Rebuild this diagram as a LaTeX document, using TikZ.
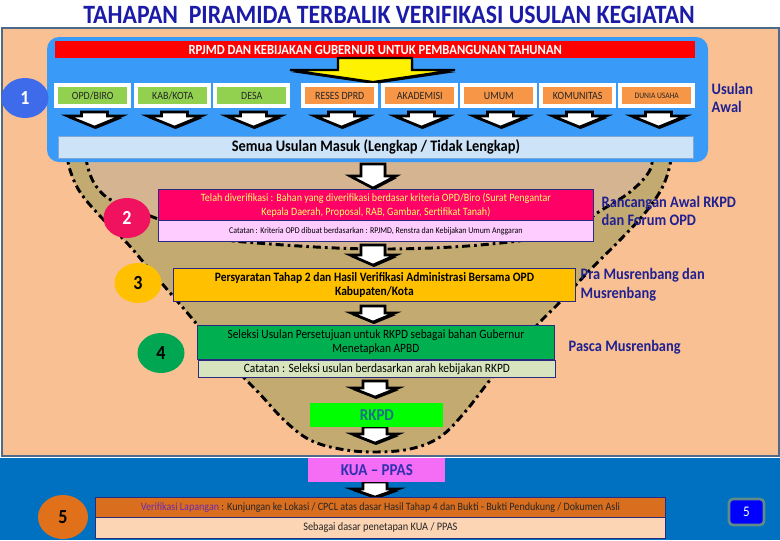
\documentclass[tikz,border=0pt]{standalone}
\usepackage{fontspec}
\setmainfont[FakeStretch=0.9]{Carlito}
\usetikzlibrary{shapes.geometric}
\newlength\px \setlength\px{0.75pt}
\definecolor{titleblue}{HTML}{1B1BA8}
\definecolor{peach}{HTML}{F9C193}
\definecolor{slate}{HTML}{4D6A8A}
\definecolor{lowblue}{HTML}{0070C0}
\definecolor{skyblue}{HTML}{3A9AF7}
\definecolor{lgreen}{HTML}{92D050}
\definecolor{lorange}{HTML}{F79646}
\definecolor{semua}{HTML}{CDE3F8}
\definecolor{semuab}{HTML}{7FA8D8}
\definecolor{khaki}{HTML}{C3AA71}
\definecolor{lighttan}{HTML}{D5B491}
\definecolor{magenta2}{HTML}{FF0066}
\definecolor{lpink}{HTML}{FFCCFF}
\definecolor{amber}{HTML}{FFC000}
\definecolor{dgreen}{HTML}{00B050}
\definecolor{notegreen}{HTML}{D7E4BD}
\definecolor{boxline}{HTML}{2A2A80}
\definecolor{navylbl}{HTML}{202090}
\definecolor{rkpdtxt}{HTML}{1D6E8A}
\definecolor{kuafill}{HTML}{F56CF5}
\definecolor{kuatxt}{HTML}{3030B0}
\definecolor{orange5}{HTML}{D96E1E}
\definecolor{peach5}{HTML}{FCD5B5}
\definecolor{vpurple}{HTML}{6A2AB0}
\definecolor{yellowtxt}{HTML}{FFFF66}
\definecolor{c1}{HTML}{3D6BEA}
\definecolor{c2}{HTML}{F0115F}
\definecolor{c4}{HTML}{00A651}
\definecolor{c5}{HTML}{E0701A}
\definecolor{pgborder}{HTML}{5E8C8A}
\newcommand\dnarrow[6]{%
  \fill[black, xshift=0.8pt, yshift=-1.5pt] (#1-#5,#2) -- (#1+#5,#2) -- (#1+#5,#3) -- (#1+#6,#3) -- (#1,#4) -- (#1-#6,#3) -- (#1-#5,#3) -- cycle;
  \draw[arrowsty] (#1-#5,#2) -- (#1+#5,#2) -- (#1+#5,#3) -- (#1+#6,#3) -- (#1,#4) -- (#1-#6,#3) -- (#1-#5,#3) -- cycle;}
\begin{document}
\begin{tikzpicture}[x=0.75pt,y=-0.75pt,
  arrowsty/.style={fill=white, draw=black, line width=1.9pt, line join=miter},
  frame/.style={fill=white, minimum width=77\px, minimum height=25\px, inner sep=0pt, anchor=north west},
  lbl/.style={minimum width=69\px, minimum height=17\px, inner sep=0pt, text=black!85, font=\fontsize{8.3}{9}\selectfont},
  bx/.style={draw=boxline, line width=0.6pt, inner sep=0pt, anchor=north west, align=center},
  num/.style={ellipse, minimum width=47\px, minimum height=40\px, inner sep=0pt, font=\bfseries\fontsize{15}{15}\selectfont},
  side/.style={anchor=west, align=left, text=navylbl, font=\bfseries\fontsize{12}{14}\selectfont},
  funnel/.style={draw=black, line width=2.2pt, dash pattern=on 6pt off 3pt on 2pt off 3pt}
]
\useasboundingbox (0,0) rectangle (780,540);
\fill[white] (0,0) rectangle (780,540);
% title
\node[text=titleblue, font=\bfseries\fontsize{19.8}{20}\selectfont] (title) at (389,15) {TAHAPAN\ \ PIRAMIDA TERBALIK VERIFIKASI USULAN KEGIATAN};
% panels
\draw[fill=peach, draw=slate, line width=1.5pt] (2,28) rectangle (779,456);
\fill[lowblue] (0,458) rectangle (780,540);
% funnel
\draw[funnel, fill=khaki] plot[smooth, tension=0.6] coordinates {(66,150) (70,170) (80,192) (100,216) (127,243) (145,264) (165,287) (190,316) (225,358) (258,392) (285,421) (310,440) (340,449) (373,452) (410,449) (440,437) (465,412) (490,380) (515,350) (540,322) (560,302) (590,270) (620,240) (645,213) (662,188) (670,165) (671,150)} -- cycle;
\draw[funnel, fill=lighttan] plot[smooth, tension=0.6] coordinates {(652,150) (650,170) (630,192) (597,213) (570,232) (480,245) (375,249) (270,244) (200,236) (158,219) (113,201) (96,186) (88,168) (85,150)} -- cycle;
% top blue panel
\fill[skyblue, rounded corners=12\px] (47,37) rectangle (708,162);
\node[fill=red, minimum width=640\px, minimum height=17\px, inner sep=0pt, anchor=north west, text=white, font=\bfseries\fontsize{10.5}{11}\selectfont] (rpjmd) at (55,41) {RPJMD DAN KEBIJAKAN GUBERNUR UNTUK PEMBANGUNAN TAHUNAN};
\fill[black, xshift=0.8pt, yshift=-1.5pt] (338,58) -- (412,58) -- (412,70) -- (455,70) -- (373,82) -- (290,70) -- (338,70) -- cycle;
\draw[fill=yellow, draw=black, line width=1.6pt, line join=miter] (338,58) -- (412,58) -- (412,70) -- (455,70) -- (373,82) -- (290,70) -- (338,70) -- cycle;
% source boxes
\node[frame] (f1) at (54,83) {};  \node[lbl, fill=lgreen] (l1) at (f1.center) {OPD/BIRO};
\node[frame] (f2) at (134,83) {}; \node[lbl, fill=lgreen] (l2) at (f2.center) {KAB/KOTA};
\node[frame] (f3) at (213,83) {}; \node[lbl, fill=lgreen] (l3) at (f3.center) {DESA};
\node[frame] (f4) at (301,83) {}; \node[lbl, fill=lorange] (l4) at (f4.center) {RESES DPRD};
\node[frame] (f5) at (381,83) {}; \node[lbl, fill=lorange] (l5) at (f5.center) {AKADEMISI};
\node[frame] (f6) at (460,83) {}; \node[lbl, fill=lorange] (l6) at (f6.center) {UMUM};
\node[frame] (f7) at (539,83) {}; \node[lbl, fill=lorange] (l7) at (f7.center) {KOMUNITAS};
\node[frame] (f8) at (618,83) {}; \node[lbl, fill=lorange, font=\fontsize{6.3}{7}\selectfont] (l8) at (f8.center) {DUNIA USAHA};
\foreach \cx in {94.5,174.5,253.5,341.5,421.5,500.5,579.5,658.5}{\dnarrow{\cx}{112}{116}{127}{13}{27}}
\node[bx, draw=semuab, fill=semua, minimum width=635\px, minimum height=22\px, font=\bfseries\fontsize{12}{13}\selectfont] (semua) at (58,136) {Semua Usulan Masuk (Lengkap / Tidak Lengkap)};
% central arrows
\dnarrow{373}{164}{176}{188}{12}{23}
\dnarrow{373}{245}{255}{265}{12}{23}
\dnarrow{373}{306}{313}{322}{12}{22}
\dnarrow{375}{381}{388}{397}{12}{23}
\dnarrow{375}{427}{434}{443}{12}{23}
\dnarrow{375}{482}{489}{497}{12}{23}
% stage boxes
\node[bx, fill=magenta2, minimum width=435\px, minimum height=31\px, text=yellowtxt, font=\fontsize{8.4}{10.5}\selectfont] (b2) at (158,189) {Telah diverifikasi : Bahan yang diverifikasi berdasar kriteria OPD/Biro (Surat Pengantar\\Kepala Daerah, Proposal, RAB, Gambar, Sertifikat Tanah)};
\node[bx, fill=lpink, minimum width=435\px, minimum height=21\px, font=\fontsize{6.6}{8}\selectfont] (n2) at (158,220) {Catatan : Kriteria OPD dibuat berdasarkan : RPJMD, Renstra dan Kebijakan Umum Anggaran};
\node[bx, fill=amber, minimum width=402\px, minimum height=33\px, font=\bfseries\fontsize{9.6}{10.5}\selectfont] (b3) at (173,268) {Persyaratan Tahap 2 dan Hasil Verifikasi Administrasi Bersama OPD\\Kabupaten/Kota};
\node[bx, fill=dgreen, minimum width=357\px, minimum height=34\px, font=\fontsize{9.5}{10.5}\selectfont] (b4) at (197,325) {Seleksi Usulan Persetujuan untuk RKPD sebagai bahan Gubernur\\Menetapkan APBD};
\node[bx, fill=notegreen, minimum width=357\px, minimum height=17\px, font=\fontsize{9.5}{10}\selectfont] (n4) at (198,360) {Catatan : Seleksi usulan berdasarkan arah kebijakan RKPD};
\node[bx, draw=none, fill=green, minimum width=133\px, minimum height=24\px, text=rkpdtxt, font=\bfseries\fontsize{12.5}{13}\selectfont] (rkpd) at (310,403) {RKPD};
\node[bx, draw=none, fill=kuafill, minimum width=137\px, minimum height=24\px, text=kuatxt, font=\bfseries\fontsize{12.5}{13}\selectfont] (kua) at (308,458) {KUA -- PPAS};
\node[bx, fill=orange5, minimum width=570\px, minimum height=20\px, text=black!85, font=\fontsize{8.4}{9}\selectfont] (b5) at (95,497) {{\color{vpurple}Verifikasi Lapangan} : Kunjungan ke Lokasi / CPCL atas dasar Hasil Tahap 4 dan Bukti - Bukti Pendukung / Dokumen Asli};
\node[bx, fill=peach5, minimum width=570\px, minimum height=21\px, text=black!85, font=\fontsize{8.6}{9}\selectfont] (n5) at (95,517) {Sebagai dasar penetapan KUA / PPAS};
% number circles
\node[num, fill=c1, text=white] (k1) at (25,98) {1};
\node[num, fill=c2, text=white] (k2) at (127,218) {2};
\node[num, fill=amber, text=black] (k3) at (138,283) {3};
\node[num, fill=c4, text=black] (k4) at (161,353) {4};
\node[num, fill=c5, text=black, minimum width=50\px, minimum height=44\px] (k5) at (63,517) {5};
% side labels
\node[side] (s1) at (707,98) {Usulan\\Awal};
\node[side] (s2) at (597,211) {Rancangan Awal RKPD\\dan Forum OPD};
\node[side] (s3) at (576,285) {Pra Musrenbang dan\\Musrenbang};
\node[side] (s4) at (564,347) {Pasca Musrenbang};
% page number
\node[draw=pgborder, line width=2pt, fill=blue, rounded corners=3pt, minimum width=35\px, minimum height=26\px, inner sep=0pt, text=white, font=\fontsize{11}{11}\selectfont] (pg) at (746.5,512) {5};
\end{tikzpicture}
\end{document}
